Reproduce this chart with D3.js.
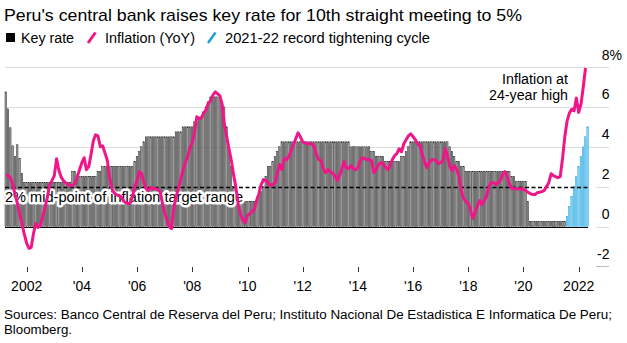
<!DOCTYPE html>
<html><head><meta charset="utf-8">
<script src="https://cdn.jsdelivr.net/npm/d3@7"></script>
<style>
body{margin:0;background:#fff;}
svg{display:block;font-family:"Liberation Sans",Arial,Helvetica,sans-serif;}
</style></head><body>
<svg id="c" width="627" height="343"></svg>
<script>
// ---------- data ----------
const title = "Peru's central bank raises key rate for 10th straight meeting to 5%";
const legendLabels = ["Key rate", "Inflation (YoY)", "2021-22 record tightening cycle"];
const annotationLines = ["Inflation at", "24-year high"];
const targetLabel = "2% mid-point of inflation target range";
const sourceLines = ["Sources: Banco Central de Reserva del Peru; Instituto Nacional De Estadistica E Informatica De Peru;", "Bloomberg."];
const firstMonth = "2001-04";   // first monthly observation
const cycleStart = "2021-08";   // start of 2021-22 tightening cycle
const targetMid = 2;

// Key rate (%), monthly Apr 2001 – May 2022
const keyRate = [
  6.75, 5.9, 4.95, 4.05, 3.5, 4.1, 3.4, 2.65, 2.2,                    // 2001 Apr-Dec
  2.2, 2.2, 2.2, 2.2, 2.2, 2.2, 2.2, 2.2, 2.2, 2.2, 2.2, 2.2,          // 2002
  2.2, 2.2, 2.2, 2.2, 2.2, 2.2, 2.2, 2.2, 2.75, 2.75, 2.5, 2.5,        // 2003
  2.5, 2.5, 2.5, 2.5, 2.5, 2.5, 2.5, 2.75, 2.75, 3, 3, 3,             // 2004
  3, 3, 3, 3, 3, 3, 3, 3, 3, 3, 3, 3.25,                              // 2005
  3.5, 3.75, 4, 4.25, 4.5, 4.5, 4.5, 4.5, 4.5, 4.5, 4.5, 4.5,         // 2006
  4.5, 4.5, 4.5, 4.5, 4.5, 4.75, 4.75, 4.75, 5, 5, 5, 5,              // 2007
  5, 5.25, 5.25, 5.5, 5.5, 5.75, 6, 6.25, 6.5, 6.5, 6.5, 6.5,         // 2008
  6.5, 6.25, 6, 5, 4, 3, 2, 1.25, 1.25, 1.25, 1.25, 1.25,             // 2009
  1.25, 1.25, 1.25, 1.25, 1.25, 1.5, 1.75, 2, 2.5, 3, 3, 3.25,        // 2010
  3.5, 3.75, 4, 4.25, 4.25, 4.25, 4.25, 4.25, 4.25, 4.25, 4.25, 4.25, // 2011
  4.25, 4.25, 4.25, 4.25, 4.25, 4.25, 4.25, 4.25, 4.25, 4.25, 4.25, 4.25, // 2012
  4.25, 4.25, 4.25, 4.25, 4.25, 4.25, 4.25, 4.25, 4.25, 4, 4, 4,      // 2013
  4, 4, 4, 4, 4, 4, 3.75, 3.75, 3.5, 3.5, 3.5, 3.5,                   // 2014
  3.25, 3.25, 3.25, 3.25, 3.25, 3.25, 3.25, 3.5, 3.5, 3.75, 4, 4.25,  // 2015
  4.25, 4.25, 4.25, 4.25, 4.25, 4.25, 4.25, 4.25, 4.25, 4.25, 4.25, 4.25, // 2016
  4.25, 4.25, 4.25, 4.25, 4, 3.75, 3.5, 3.25, 3.25, 3, 3, 2.75,       // 2017
  2.75, 2.75, 2.75, 2.75, 2.75, 2.75, 2.75, 2.75, 2.75, 2.75, 2.75, 2.75, // 2018
  2.75, 2.75, 2.75, 2.75, 2.75, 2.75, 2.75, 2.5, 2.5, 2.25, 2.25, 2.25, // 2019
  2.25, 2.25, 1.25, 0.25, 0.25, 0.25, 0.25, 0.25, 0.25, 0.25, 0.25, 0.25, // 2020
  0.25, 0.25, 0.25, 0.25, 0.25, 0.25, 0.25, 0.5, 1, 1.5, 2, 2.5,      // 2021
  3, 3.5, 4, 4.5, 5                                                   // 2022 Jan-May
];

// Inflation YoY (%), monthly Apr 2001 – Apr 2022
const inflation = [
  2.6, 2.55, 2.45, 2.1, 1.6, 1.15, 0.6, 0.1, -0.4,                    // 2001 Apr-Dec
  -0.85, -1.1, -1.05, -0.35, 0.15, -0.05, 0.05, 0.5, 0.97, 1.45, 2.1, 2.3, // 2002
  2.55, 3.4, 2.85, 2.5, 2.3, 2.2, 2.1, 2.05, 2.05, 2.2, 2.5, 2.85,    // 2003
  3.2, 3.45, 2.85, 3.0, 3.6, 4.3, 4.6, 4.55, 4.0, 4.05, 3.7, 3.35,    // 2004
  2.5, 1.9, 1.7, 1.6, 1.55, 1.5, 1.3, 1.2, 1.15, 1.15, 1.5, 2.0,      // 2005
  2.3, 2.75, 2.65, 2.2, 1.9, 1.8, 1.95, 1.9, 1.9, 1.85, 1.75, 1.2,    // 2006
  0.7, 0.3, 0.0, -0.1, 0.9, 1.5, 1.9, 2.35, 2.85, 3.2, 3.5, 3.95,     // 2007
  4.2, 4.75, 5.5, 5.4, 5.45, 5.7, 5.85, 6.2, 6.3, 6.6, 6.75, 6.65,    // 2008
  6.55, 6.1, 5.1, 4.5, 3.9, 3.3, 2.6, 1.95, 1.1, 0.6, 0.3, 0.2,       // 2009
  0.55, 0.65, 0.75, 0.85, 1.3, 1.65, 2.1, 2.35, 2.3, 2.2, 2.05, 2.1,  // 2010
  2.2, 2.7, 3.1, 2.85, 3.4, 3.35, 3.5, 3.8, 4.1, 4.4, 4.7, 4.5,       // 2011
  4.25, 4.2, 4.15, 4.15, 4.15, 4.0, 3.6, 3.35, 3.3, 2.9, 2.7, 2.85,   // 2012
  2.75, 2.65, 2.55, 2.3, 2.55, 2.85, 3.25, 2.95, 2.9, 3.05, 2.9, 2.85, // 2013
  2.95, 3.3, 3.45, 3.4, 3.35, 3.35, 3.3, 2.7, 2.85, 3.1, 3.2, 3.15,   // 2014
  2.95, 2.85, 3.05, 3.35, 3.55, 3.65, 3.9, 3.75, 4.15, 4.35, 4.55, 4.65, // 2015
  4.5, 4.35, 4.15, 4.05, 3.6, 3.25, 2.95, 3.2, 3.35, 3.35, 3.3, 3.15, // 2016
  3.2, 3.3, 3.9, 3.55, 3.0, 2.8, 3.05, 2.85, 2.5, 1.8, 1.4, 1.25,     // 2017
  1.15, 0.8, 0.4, 0.7, 1.05, 1.3, 1.1, 1.3, 1.55, 2.0, 2.2, 2.2,      // 2018
  2.1, 2.2, 2.3, 2.6, 2.75, 2.5, 2.1, 1.9, 1.9, 1.88, 1.88, 1.9,      // 2019
  1.85, 1.8, 1.72, 1.65, 1.6, 1.6, 1.7, 1.72, 1.75, 1.8, 2.0, 2.2,    // 2020
  2.65, 2.55, 2.5, 2.45, 2.5, 3.4, 4.5, 5.3, 5.7, 5.88, 5.8, 6.45,    // 2021
  5.72, 6.15, 6.95, 7.95                                              // 2022 Jan-Apr
];

const yTicks = [-2, 0, 2, 4, 6, 8];
const xTickYears = [2002, 2004, 2006, 2008, 2010, 2012, 2014, 2016, 2018, 2020, 2022];
const xTickLabels = ["2002", "'04", "'06", "'08", "'10", "'12", "'14", "'16", "'18", "'20", "2022"];

// ---------- colors ----------
const PINK = "#ef1689", BLUE_FILL = "#8fd9f6", BLUE_STROKE = "#1e9fdc";
const GRAY_FILL = "#a8a8a8", GRAY_STROKE = "#1c1c1c", GRID = "#dcdcdc";

// ---------- setup ----------
const svg = d3.select("#c");
const parseM = d3.timeParse("%Y-%m");
const start = parseM(firstMonth);
const rateMonths = d3.timeMonth.range(start, d3.timeMonth.offset(start, keyRate.length));
const inflMonths = d3.timeMonth.range(start, d3.timeMonth.offset(start, inflation.length));
const cycleDate = parseM(cycleStart);

const x = d3.scaleTime()
  .domain([new Date(2002, 0, 1), new Date(2022, 0, 1)])
  .range([26.7, 578.7]);
const y = d3.scaleLinear().domain([0, 8]).range([226.5, 67]);

const plotLeft = 5, plotRight = 588, gridRight = 609, tickLeft = 596;
const crisp = v => Math.round(v) + 0.5;

function fitText(sel, w) {
  sel.attr("textLength", w).attr("lengthAdjust", "spacingAndGlyphs");
}

// ---------- title & legend ----------
svg.append("text").attr("x", 4).attr("y", 20.5).attr("font-size", 17).attr("fill", "#000")
  .text(title).call(fitText, 518);

const lg = svg.append("g");
lg.append("rect").attr("x", 6).attr("y", 33).attr("width", 9).attr("height", 9).attr("fill", "#000");
lg.append("text").attr("x", 21).attr("y", 43).attr("font-size", 14).text(legendLabels[0]).call(fitText, 53);
lg.append("line").attr("x1", 88).attr("y1", 43).attr("x2", 95.5).attr("y2", 32.5)
  .attr("stroke", PINK).attr("stroke-width", 3);
lg.append("text").attr("x", 105).attr("y", 43).attr("font-size", 14).text(legendLabels[1]).call(fitText, 90);
lg.append("line").attr("x1", 208).attr("y1", 43).attr("x2", 215.5).attr("y2", 32.5)
  .attr("stroke", BLUE_STROKE).attr("stroke-width", 2.5);
lg.append("text").attr("x", 225).attr("y", 43).attr("font-size", 14).text(legendLabels[2]).call(fitText, 205);

// ---------- gridlines & y labels ----------
const grid = svg.append("g");
yTicks.forEach(t => {
  const yy = crisp(y(t));
  if (t === -2) {
    grid.append("line").attr("x1", tickLeft).attr("x2", gridRight).attr("y1", yy).attr("y2", yy)
      .attr("stroke", "#bdbdbd");
  } else if (t === 0 || t === targetMid) {
    grid.append("line").attr("x1", tickLeft).attr("x2", gridRight).attr("y1", yy).attr("y2", yy)
      .attr("stroke", GRID);
  } else {
    grid.append("line").attr("x1", plotLeft).attr("x2", gridRight).attr("y1", yy).attr("y2", yy)
      .attr("stroke", GRID);
  }
  grid.append("text").attr("x", 609.5).attr("y", y(t) - 7.5)
    .attr("font-size", 14).attr("text-anchor", "end").attr("fill", "#000").text(t);
  if (t === 8) {
    grid.append("text").attr("x", 609.5).attr("y", y(t) - 7.5).attr("font-size", 14)
      .attr("fill", "#000").text("%");
  }
});

// ---------- bars ----------
const barW = 1.4;
const rateData = keyRate.map((v, i) => ({ date: rateMonths[i], value: v }));
svg.append("g").selectAll("rect").data(rateData).join("rect")
  .attr("x", d => x(d.date) - 0.9)
  .attr("width", barW)
  .attr("y", d => y(d.value))
  .attr("height", d => y(0) - y(d.value))
  .attr("fill", d => d.date >= cycleDate ? BLUE_FILL : GRAY_FILL)
  .attr("stroke", d => d.date >= cycleDate ? BLUE_STROKE : GRAY_STROKE)
  .attr("stroke-width", 0.5);

// ---------- zero line & target line ----------
svg.append("line").attr("x1", plotLeft).attr("x2", plotRight)
  .attr("y1", crisp(y(0))).attr("y2", crisp(y(0))).attr("stroke", "#000").attr("stroke-width", 1);
svg.append("line").attr("x1", plotLeft).attr("x2", plotRight)
  .attr("y1", crisp(y(targetMid))).attr("y2", crisp(y(targetMid)))
  .attr("stroke", "#000").attr("stroke-width", 1.3).attr("stroke-dasharray", "4,2.5");

// target label with white halo
svg.append("text").attr("x", 5).attr("y", y(targetMid) + 15.5).attr("font-size", 14)
  .attr("fill", "#000").attr("stroke", "#fff").attr("stroke-width", 5)
  .attr("stroke-linejoin", "round").attr("paint-order", "stroke")
  .text(targetLabel).call(fitText, 238);

// ---------- inflation line ----------
const inflData = inflation.map((v, i) => ({ date: inflMonths[i], value: v }));
svg.append("path").datum(inflData)
  .attr("fill", "none").attr("stroke", PINK).attr("stroke-width", 3)
  .attr("stroke-linejoin", "round").attr("stroke-linecap", "butt")
  .attr("d", d3.line().x(d => x(d.date)).y(d => y(d.value)));

// ---------- annotation ----------
svg.append("text").attr("x", 568).attr("y", 84).attr("font-size", 14).attr("text-anchor", "end")
  .text(annotationLines[0]).call(fitText, 66);
svg.append("text").attr("x", 568).attr("y", 100).attr("font-size", 14).attr("text-anchor", "end")
  .text(annotationLines[1]).call(fitText, 79);

// ---------- x axis ----------
const xa = svg.append("g");
xTickYears.forEach((yr, i) => {
  const xx = crisp(x(new Date(yr, 0, 1)));
  xa.append("line").attr("x1", xx).attr("x2", xx).attr("y1", 267).attr("y2", 272)
    .attr("stroke", "#333").attr("stroke-width", 1);
  xa.append("text").attr("x", x(new Date(yr, 0, 1))).attr("y", 291).attr("font-size", 14)
    .attr("text-anchor", "middle").attr("fill", "#000").text(xTickLabels[i]);
});

// ---------- sources ----------
svg.append("text").attr("x", 4).attr("y", 319).attr("font-size", 12.5).attr("fill", "#000")
  .text(sourceLines[0]).call(fitText, 608);
svg.append("text").attr("x", 4).attr("y", 334).attr("font-size", 12.5).attr("fill", "#000")
  .text(sourceLines[1]).call(fitText, 68);
</script>
</body></html>
